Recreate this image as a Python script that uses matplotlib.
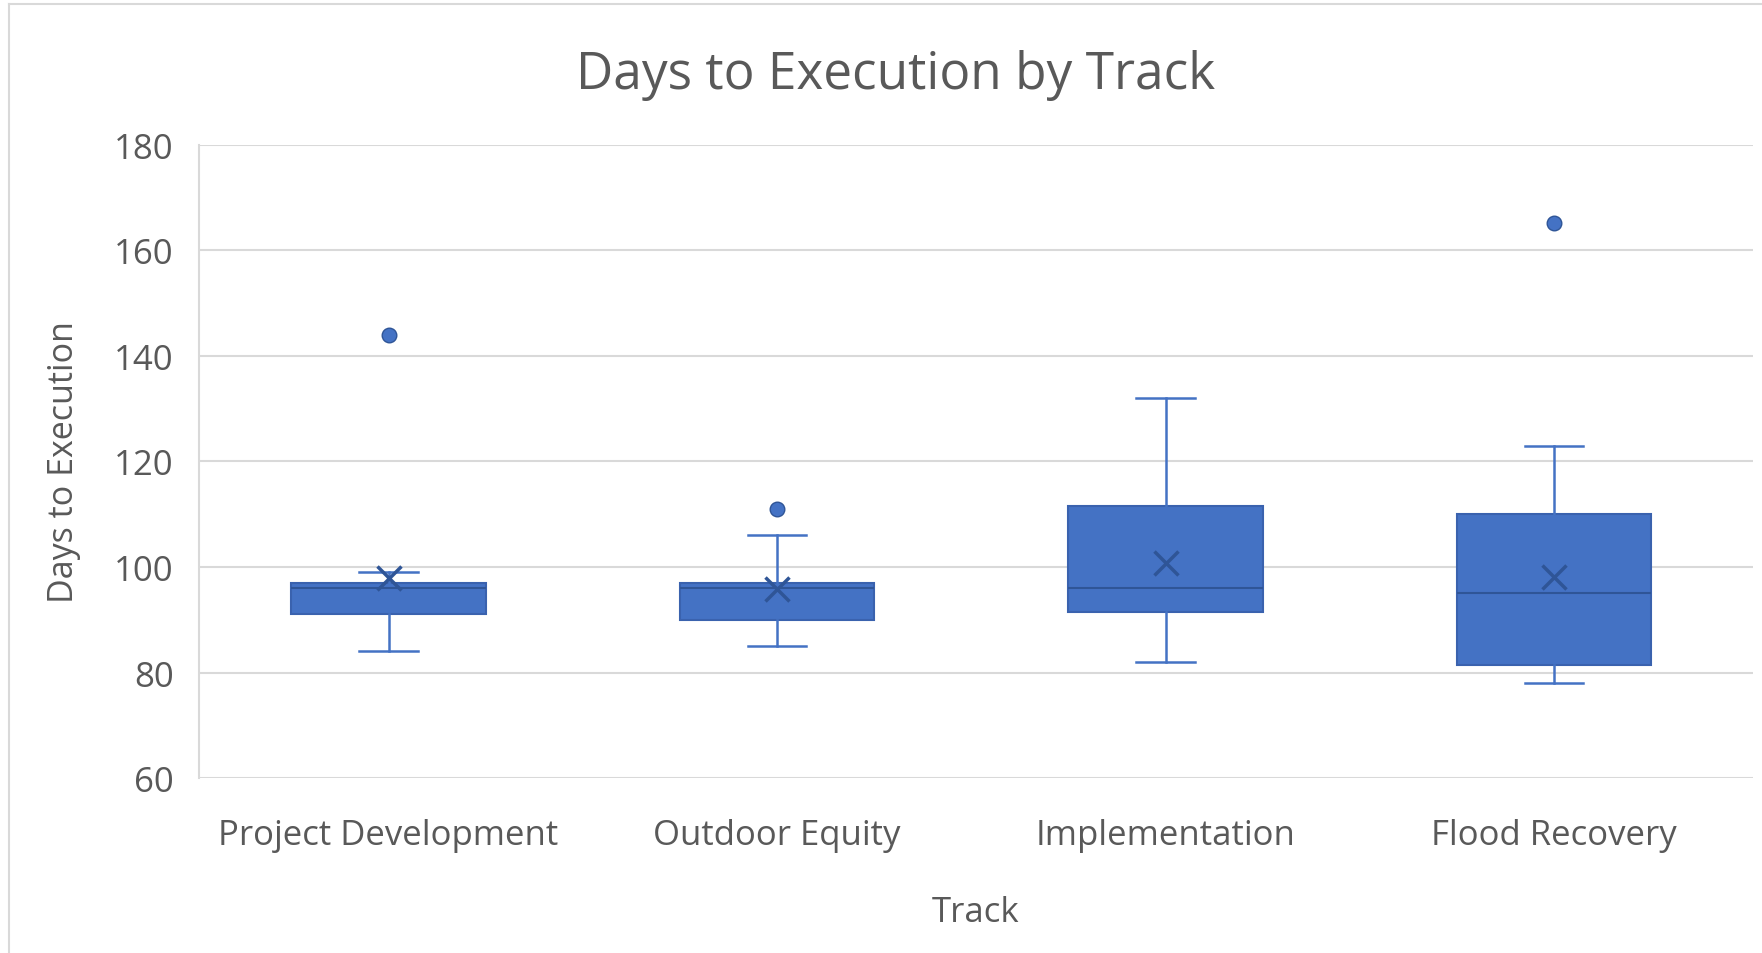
import matplotlib.pyplot as plt
from matplotlib.lines import Line2D

tracks = ['Project Development', 'Outdoor Equity', 'Implementation', 'Flood Recovery']
whisker_low = [84, 85, 82, 78]
q1 = [91, 90, 91.5, 81.5]
median = [96, 96, 96, 95]
q3 = [97, 97, 111.5, 110]
whisker_high = [99, 106, 132, 123]
means = [98, 95.8, 100.7, 98.1]
outliers = [[144], [111], [], [165.3]]

box_color = '#4472C4'
dark_blue = '#2F5597'
text_color = '#595959'
grid_color = '#D9D9D9'

plt.rcParams['font.family'] = ['Open Sans', 'DejaVu Sans']

fig = plt.figure(figsize=(17.62, 9.54), dpi=100)
ax = fig.add_axes([0.1129, 0.1834, 0.882, 0.6636])

stats = []
for i in range(len(tracks)):
    stats.append({
        'label': tracks[i],
        'whislo': whisker_low[i],
        'q1': q1[i],
        'med': median[i],
        'q3': q3[i],
        'whishi': whisker_high[i],
        'mean': means[i],
        'fliers': outliers[i],
    })

ax.bxp(stats, positions=range(len(tracks)), widths=0.5, patch_artist=True,
       showmeans=True, showfliers=True,
       boxprops=dict(facecolor=box_color, edgecolor='#3A62AE', linewidth=1.5),
       medianprops=dict(color=dark_blue, linewidth=1.5),
       whiskerprops=dict(color=box_color, linewidth=1.8),
       capprops=dict(color=box_color, linewidth=1.8),
       capwidths=0.15,
       meanprops=dict(marker='x', markeredgecolor=dark_blue, markersize=17,
                      markeredgewidth=2.5),
       flierprops=dict(marker='o', markerfacecolor=box_color,
                       markeredgecolor=dark_blue, markersize=10.5))

ax.set_xlim(-0.488, len(tracks) - 0.488)
ax.set_ylim(60, 180)
ax.set_yticks(range(60, 181, 20))
ax.yaxis.grid(True, color=grid_color, linewidth=1.5)
ax.set_axisbelow(True)

for side in ['top', 'right', 'bottom']:
    ax.spines[side].set_visible(False)
ax.spines['left'].set_color(grid_color)
ax.spines['left'].set_linewidth(1.5)

ax.tick_params(axis='both', length=0, labelsize=25, labelcolor=text_color)
ax.tick_params(axis='y', pad=18)
ax.tick_params(axis='x', pad=29)

ax.set_xlabel('Track', fontsize=25, color=text_color, labelpad=31)
ax.set_ylabel('Days to Execution', fontsize=24.5, color=text_color, labelpad=24)

# chart title, centred on the chart area like Excel does
fig.text(0.5085, 0.921, 'Days to Execution by Track', fontsize=37,
         color=text_color, ha='center', va='center')

# chart area border (left and top edges visible)
fig.add_artist(Line2D([0.0051, 0.0051], [0, 0.995], transform=fig.transFigure,
                      color=grid_color, linewidth=1.5))
fig.add_artist(Line2D([0.0051, 1], [0.995, 0.995], transform=fig.transFigure,
                      color=grid_color, linewidth=1.5))

fig.savefig('out.png', dpi=100)
